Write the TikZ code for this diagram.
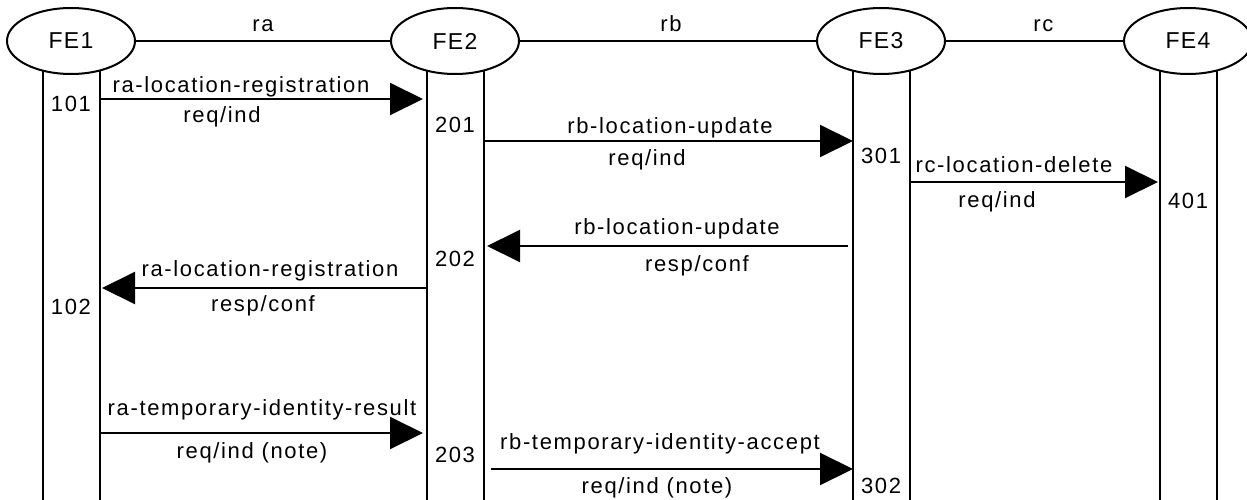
\documentclass[tikz,border=0pt]{standalone}
\usepackage{fontspec}
\setmainfont{Liberation Sans}[LetterSpace=7.5]
\newfontfamily\fefont{Liberation Sans}[LetterSpace=6]
\usetikzlibrary{arrows.meta,shapes.geometric}

\begin{document}
\begin{tikzpicture}[x=1pt,y=-1pt,
  lw/.style={line width=2pt},
  fe/.style={draw, lw, ellipse, minimum width=128pt, minimum height=66pt,
    inner sep=0pt, outer sep=0pt, font=\fefont\fontsize{23}{25}\selectfont},
  lifeline/.style={lw},
  iface/.style={lw},
  msg/.style={lw, -{Triangle[length=33pt,width=32pt]}},
  lbl/.style={anchor=base, inner sep=0pt, font=\fontsize{22}{24}\selectfont},
  ifacelbl/.style={anchor=south, inner sep=0pt, yshift=8pt, font=\fontsize{22}{24}\selectfont},
  ]
  % page frame
  \fill[white] (0,0) rectangle (1247,500);
  \useasboundingbox (0,0) rectangle (1247,500);
  \coordinate (bot) at (0,500);

  % functional entities
  \node[fe] (fe1) at (71,41)   {FE1};
  \node[fe] (fe2) at (455,41)  {FE2};
  \node[fe] (fe3) at (881,41)  {FE3};
  \node[fe] (fe4) at (1188,41) {FE4};

  % reference points between entities
  \draw[iface] (fe1.east) -- node[ifacelbl, pos=0.5]  {ra} (fe2.west);
  \draw[iface] (fe2.east) -- node[ifacelbl, pos=0.51] {rb} (fe3.west);
  \draw[iface] (fe3.east) -- node[ifacelbl, pos=0.55] {rc} (fe4.west);

  % lifelines
  \foreach \f in {fe1,fe2,fe3,fe4}{
    \draw[lifeline] (\f.-133.3) -- (\f.-133.3 |- bot);
    \draw[lifeline] (\f.-46.7)  -- (\f.-46.7 |- bot);
  }

  % message end points
  \coordinate (m1s) at (99,99);   \coordinate (m1e) at (423,99);
  \coordinate (m2s) at (483,141); \coordinate (m2e) at (853,141);
  \coordinate (m3s) at (909,182); \coordinate (m3e) at (1158,182);
  \coordinate (m4s) at (848,246); \coordinate (m4e) at (487,246);
  \coordinate (m5s) at (427,288); \coordinate (m5e) at (102,288);
  \coordinate (m6s) at (99,433);  \coordinate (m6e) at (423,433);
  \coordinate (m7s) at (491,469); \coordinate (m7e) at (853,469);

  % messages
  \draw[msg] (m1s) -- (m1e);
  \draw[msg] (m2s) -- (m2e);
  \draw[msg] (m3s) -- (m3e);
  \draw[msg] (m4s) -- (m4e);
  \draw[msg] (m5s) -- (m5e);
  \draw[msg] (m6s) -- (m6e);
  \draw[msg] (m7s) -- (m7e);

  % message names and primitives
  \node[lbl] (t1) at (241,93)  {ra-location-registration};
  \node[lbl] (b1) at (222,123) {req/ind};
  \node[lbl] (t2) at (670,134) {rb-location-update};
  \node[lbl] (b2) at (647,165) {req/ind};
  \node[lbl] (t3) at (1014,172) {rc-location-delete};
  \node[lbl] (b3) at (997,207) {req/ind};
  \node[lbl] (t4) at (677,234) {rb-location-update};
  \node[lbl] (b4) at (697,271) {resp/conf};
  \node[lbl] (t5) at (270,276) {ra-location-registration};
  \node[lbl] (b5) at (263,311) {resp/conf};
  \node[lbl] (t6) at (262,415) {ra-temporary-identity-result};
  \node[lbl] (b6) at (252,458) {req/ind (note)};
  \node[lbl] (t7) at (660,449) {rb-temporary-identity-accept};
  \node[lbl] (b7) at (657,493) {req/ind (note)};

  % action numbers
  \node[lbl] (n101) at (71,112)   {101};
  \node[lbl] (n102) at (71,314)   {102};
  \node[lbl] (n201) at (455,132)  {201};
  \node[lbl] (n202) at (455,266)  {202};
  \node[lbl] (n203) at (455,462)  {203};
  \node[lbl] (n301) at (881,164)  {301};
  \node[lbl] (n302) at (881,493)  {302};
  \node[lbl] (n401) at (1188,208) {401};
\end{tikzpicture}
\end{document}
